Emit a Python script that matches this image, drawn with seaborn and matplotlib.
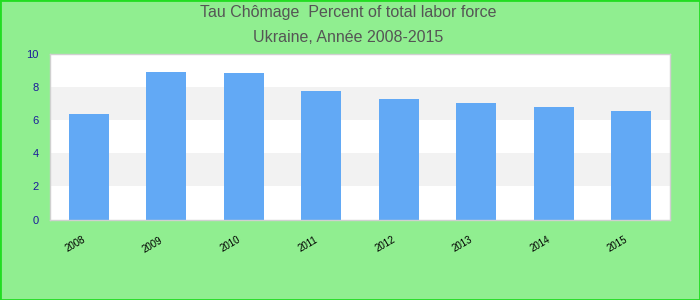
import matplotlib
matplotlib.use("Agg")
import matplotlib.pyplot as plt
import matplotlib.transforms as mtransforms
import seaborn as sns
import pandas as pd
from matplotlib.patches import Rectangle

years = ["2008", "2009", "2010", "2011", "2012", "2013", "2014", "2015"]
values = [6.36, 8.89, 8.83, 7.74, 7.26, 7.02, 6.78, 6.54]
yticks = [0, 2, 4, 6, 8, 10]
title_lines = ["Tau Chômage  Percent of total labor force", "Ukraine, Année 2008-2015"]

sns.set_style("white")
plt.rcParams['font.family'] = ['Liberation Sans', 'DejaVu Sans']

df = pd.DataFrame({"year": years, "value": values})

fig = plt.figure(figsize=(7, 3), dpi=100, facecolor="#90EE90")
fig.patches.append(Rectangle((0, 0), 1, 1, transform=fig.transFigure, fill=False,
                             edgecolor="#22dd22", linewidth=2, zorder=10))
ax = fig.add_axes([50/700, 1 - 219.5/300, 620/700, 166/300])
ax.set_facecolor("white")

for i in range(0, len(yticks) - 1):
    if i % 2 == 1:
        ax.axhspan(yticks[i], yticks[i + 1], color="#f2f2f2", zorder=0, lw=0)

sns.barplot(data=df, x="year", y="value", color="#62a9f5", saturation=1,
            width=0.52, ax=ax, zorder=2, linewidth=0, edgecolor="none")
ax.set_ylim(0, 10)
ax.set_xlim(-0.5, len(years) - 0.5)
ax.set_yticks(yticks)
ax.set_xlabel("")
ax.set_ylabel("")
for s in ax.spines.values():
    s.set_color("#d0d0d0")
    s.set_linewidth(1)
ax.tick_params(axis="y", colors="#1a1a9a", labelsize=8, length=0, pad=8)
ax.tick_params(axis="x", colors="black", labelsize=7, length=0, pad=11)
for lbl in ax.get_yticklabels():
    lbl.set_color("#1a1a9a")
shift = mtransforms.ScaledTranslation(-7/100, 0, fig.dpi_scale_trans)
for lbl in ax.get_xticklabels():
    lbl.set_rotation(30)
    lbl.set_ha("right")
    lbl.set_rotation_mode("anchor")
    lbl.set_transform(lbl.get_transform() + shift)

fig.text(348/700, 1 - 13/300, title_lines[0], ha="center", va="center",
         fontsize=11.5, color="#555555")
fig.text(348/700, 1 - 37/300, title_lines[1], ha="center", va="center",
         fontsize=11.5, color="#555555")

fig.savefig("out.png", dpi=100, facecolor=fig.get_facecolor())
